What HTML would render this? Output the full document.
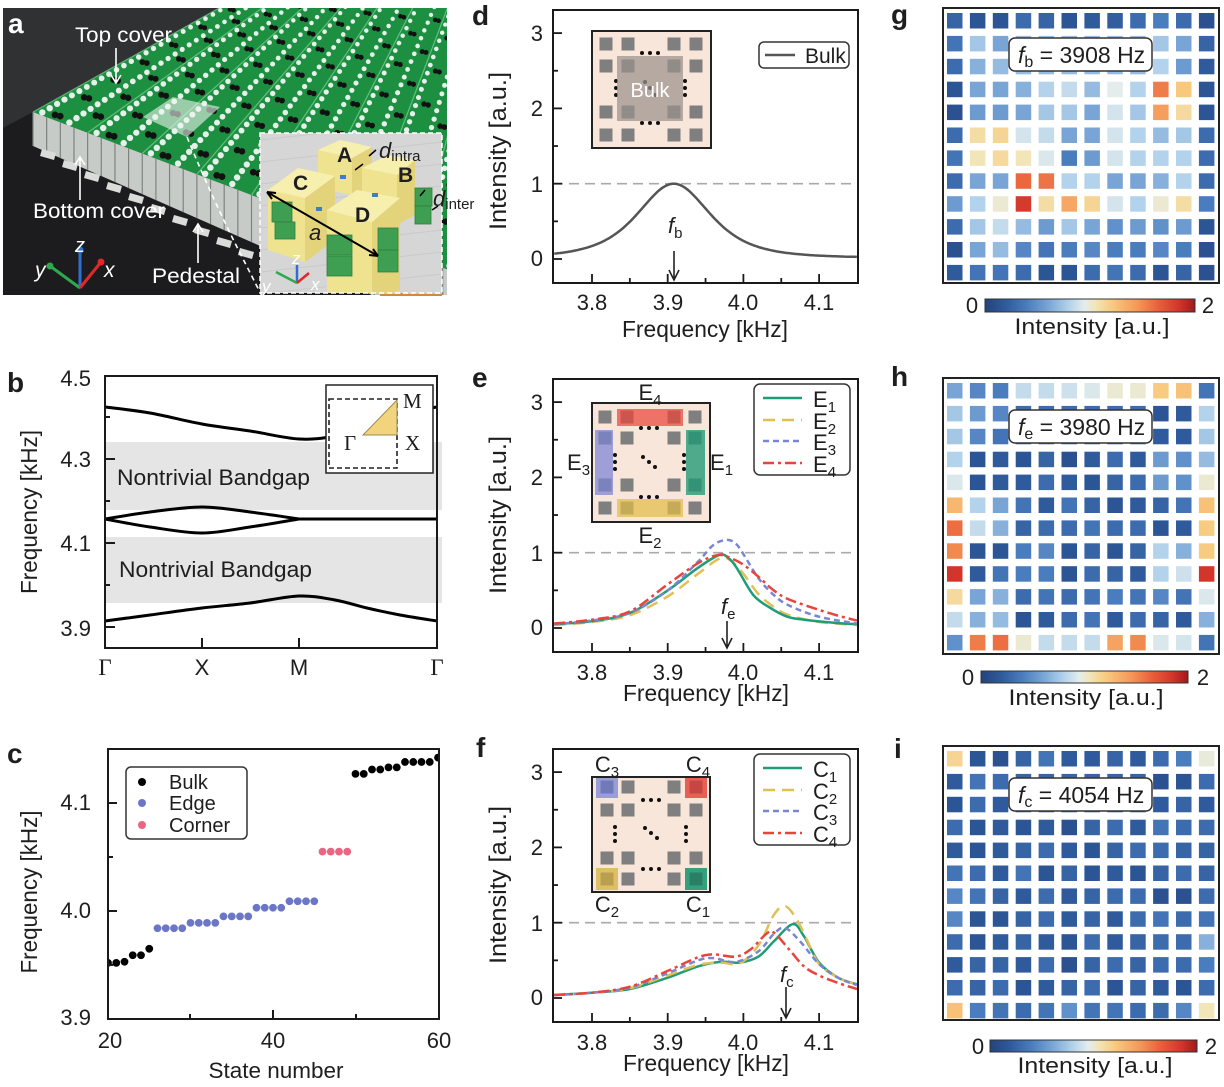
<!DOCTYPE html>
<html><head><meta charset="utf-8">
<style>
html,body{margin:0;padding:0;background:#fff;overflow:hidden}
svg{display:block}
text{font-family:"Liberation Sans",Arial,sans-serif;fill:#1e1e1e}
.t{font-size:22px}
.serif{font-family:"Liberation Serif",serif}
.w{fill:#fff}
.lbl{font-size:28px;font-weight:bold}
</style></head><body>
<svg id="s" xmlns="http://www.w3.org/2000/svg" width="1224" height="1087" viewBox="0 0 1224 1087">
<defs>
<clipPath id="pc"><rect x="3" y="8" width="444" height="287"/></clipPath>
<clipPath id="ic"><rect x="260" y="133" width="182" height="160"/></clipPath>
<clipPath id="cd"><rect x="553" y="10" width="305" height="273"/></clipPath>
<clipPath id="ce"><rect x="553" y="379" width="305" height="273"/></clipPath>
<clipPath id="cf"><rect x="553" y="748" width="305" height="273"/></clipPath>
<clipPath id="cc"><rect x="108" y="749" width="331" height="270"/></clipPath>
<linearGradient id="cbar" x1="0" x2="1" y1="0" y2="0"></linearGradient>
</defs>

<!-- ================= PANEL A (photo) ================= -->
<g clip-path="url(#pc)">
<rect x="3" y="8" width="444" height="287" fill="#1c1c1e"/>
<polygon points="3,8 230,8 33,112 3,128" fill="#303133"/>
<g id="photo"></g>
<polygon points="143,117 173,97 220,107 187,137" fill="#eef5f0" opacity="0.6"/>
<path d="M187,137 Q213,200 240,253 T262,296" fill="none" stroke="#fff" stroke-width="1.6" stroke-dasharray="5 4"/>
</g>
<g clip-path="url(#ic)">
<rect x="260" y="133" width="182" height="160" fill="#d6d6d6"/>
<g id="insetA"></g>
</g>
<rect x="260" y="133" width="182" height="160" fill="none" stroke="#fff" stroke-width="1.5" stroke-dasharray="5 3"/>
<line x1="380" y1="295" x2="442" y2="295" stroke="#d08a3a" stroke-width="2"/>
<text x="337" y="162" font-size="21" font-weight="bold">A</text>
<text x="293" y="190" font-size="21" font-weight="bold">C</text>
<text x="398" y="182" font-size="21" font-weight="bold">B</text>
<text x="355" y="222" font-size="21" font-weight="bold">D</text>
<text x="309" y="240" font-size="22" font-style="italic">a</text>
<text x="379" y="158" font-size="22" font-style="italic">d<tspan font-size="15" font-style="normal" dy="3">intra</tspan></text>
<text x="433" y="206" font-size="22" font-style="italic">d<tspan font-size="15" font-style="normal" dy="3">inter</tspan></text>
<text class="w" x="262" y="292" font-size="17" font-style="italic">y</text>
<text class="w" x="292" y="264" font-size="17" font-style="italic">z</text>
<text class="w" x="311" y="290" font-size="17" font-style="italic">x</text>

<text class="w lbl" x="8" y="33" font-size="30">a</text>
<text class="w" x="75" y="42" font-size="21" textLength="97" lengthAdjust="spacingAndGlyphs">Top cover</text>
<text class="w" x="33" y="218" font-size="21" textLength="132" lengthAdjust="spacingAndGlyphs">Bottom cover</text>
<text class="w" x="152" y="283" font-size="21" textLength="88" lengthAdjust="spacingAndGlyphs">Pedestal</text>
<text class="w" x="75" y="252" font-size="20" font-style="italic">z</text>
<text class="w" x="35" y="277" font-size="21" font-style="italic">y</text>
<text class="w" x="104" y="277" font-size="21" font-style="italic">x</text>
<g stroke="#fff" stroke-width="1.6" fill="none">
<path d="M116,48 L116,83 M111,75 L116,83 L121,75"/>
<path d="M80,200 L80,157 M75,165 L80,157 L85,165"/>
<path d="M198,263 L198,224 M193,232 L198,224 L203,232"/>
</g>

<!-- ================= PANEL B ================= -->
<text class="lbl" x="7" y="392">b</text>
<rect x="105" y="442" width="337" height="68" fill="#e5e5e5"/>
<rect x="105" y="537" width="337" height="66" fill="#e5e5e5"/>
<text x="117" y="485" font-size="22" textLength="193" lengthAdjust="spacingAndGlyphs">Nontrivial Bandgap</text>
<text x="119" y="577" font-size="22" textLength="193" lengthAdjust="spacingAndGlyphs">Nontrivial Bandgap</text>
<g id="bcurves"></g>
<rect x="326" y="385" width="107" height="88" fill="#fff" stroke="#222" stroke-width="1.5"/>
<rect x="329" y="399" width="68" height="69" fill="none" stroke="#222" stroke-width="1.6" stroke-dasharray="5 3"/>
<polygon points="363,435 397,435 397,400" fill="#f3d47e" stroke="#9a8a50" stroke-width="1"/>
<text class="serif" x="403" y="408" font-size="21">M</text>
<text class="serif" x="344" y="450" font-size="21">Γ</text>
<text class="serif" x="405" y="450" font-size="21">X</text>
<rect x="105" y="376" width="332" height="272" fill="none" stroke="#1a1a1a" stroke-width="2"/>
<g stroke="#1a1a1a" stroke-width="2">
<line x1="105" y1="459" x2="115" y2="459"/><line x1="105" y1="543" x2="115" y2="543"/><line x1="105" y1="627" x2="115" y2="627"/>
<line x1="105" y1="417" x2="110" y2="417"/><line x1="105" y1="501" x2="110" y2="501"/><line x1="105" y1="585" x2="110" y2="585"/>
<line x1="202" y1="648" x2="202" y2="638"/><line x1="299" y1="648" x2="299" y2="638"/>
</g>
<text class="t" x="91" y="386" text-anchor="end">4.5</text>
<text class="t" x="91" y="467" text-anchor="end">4.3</text>
<text class="t" x="91" y="551" text-anchor="end">4.1</text>
<text class="t" x="91" y="636" text-anchor="end">3.9</text>
<text class="serif" x="105" y="675" font-size="23" text-anchor="middle">Γ</text>
<text x="202" y="675" font-size="22" text-anchor="middle">X</text>
<text x="299" y="675" font-size="22" text-anchor="middle">M</text>
<text class="serif" x="437" y="675" font-size="23" text-anchor="middle">Γ</text>
<text transform="translate(37,512) rotate(-90)" font-size="23" text-anchor="middle" textLength="164" lengthAdjust="spacingAndGlyphs">Frequency [kHz]</text>

<!-- ================= PANEL C ================= -->
<text class="lbl" x="7" y="763">c</text>
<g id="cdots" clip-path="url(#cc)"></g>
<rect x="108" y="749" width="331" height="270" fill="none" stroke="#1a1a1a" stroke-width="2"/>
<g stroke="#1a1a1a" stroke-width="2">
<line x1="108" y1="803" x2="117" y2="803"/><line x1="108" y1="911" x2="117" y2="911"/>
<line x1="108" y1="857" x2="113" y2="857"/><line x1="108" y1="965" x2="113" y2="965"/>
<line x1="273" y1="1019" x2="273" y2="1010"/><line x1="190" y1="1019" x2="190" y2="1014"/><line x1="356" y1="1019" x2="356" y2="1014"/>
</g>
<rect x="126" y="767" width="121" height="72" rx="5" fill="#fff" stroke="#333" stroke-width="1.5"/>
<circle cx="142" cy="782" r="4" fill="#000"/>
<circle cx="142" cy="803" r="4" fill="#6b77c6"/>
<circle cx="142" cy="825" r="4" fill="#ea6581"/>
<text x="169" y="789" font-size="20">Bulk</text>
<text x="169" y="810" font-size="20">Edge</text>
<text x="169" y="832" font-size="20">Corner</text>
<text class="t" x="91" y="810" text-anchor="end">4.1</text>
<text class="t" x="91" y="918" text-anchor="end">4.0</text>
<text class="t" x="91" y="1025" text-anchor="end">3.9</text>
<text class="t" x="110" y="1048" text-anchor="middle">20</text>
<text class="t" x="273" y="1048" text-anchor="middle">40</text>
<text class="t" x="439" y="1048" text-anchor="middle">60</text>
<text x="276" y="1078" font-size="22" text-anchor="middle" textLength="135" lengthAdjust="spacingAndGlyphs">State number</text>
<text transform="translate(37,892) rotate(-90)" font-size="23" text-anchor="middle" textLength="163" lengthAdjust="spacingAndGlyphs">Frequency [kHz]</text>

<!-- ================= PANELS D,E,F ================= -->
<text class="lbl" x="472" y="25">d</text>
<text class="lbl" x="472" y="387">e</text>
<text class="lbl" x="476" y="757">f</text>
<g id="axes"></g>

<!-- inset d -->
<rect x="592" y="31" width="119" height="117" fill="#f9e6da" stroke="#222" stroke-width="2"/>
<g id="insd"></g>
<rect x="617" y="56" width="66" height="65" fill="#9a918c" opacity="0.72"/>
<text x="650" y="97" font-size="20" text-anchor="middle" style="fill:#fff">Bulk</text>
<!-- inset e -->
<rect x="592" y="403" width="118" height="119" fill="#f9e6da" stroke="#222" stroke-width="2"/>
<g id="inse"></g>
<rect x="617" y="409" width="66" height="17" fill="#e8463c" opacity="0.72"/>
<rect x="617" y="499" width="66" height="18" fill="#e0bc48" opacity="0.72"/>
<rect x="595" y="430" width="18" height="65" fill="#7a84d4" opacity="0.72"/>
<rect x="686" y="430" width="19" height="65" fill="#1d9873" opacity="0.78"/>
<g id="inse2"></g>
<text x="650" y="400" font-size="22" text-anchor="middle">E<tspan font-size="15" dy="5">4</tspan></text>
<text x="650" y="543" font-size="22" text-anchor="middle">E<tspan font-size="15" dy="5">2</tspan></text>
<text x="567" y="470" font-size="22">E<tspan font-size="15" dy="5">3</tspan></text>
<text x="710" y="470" font-size="22">E<tspan font-size="15" dy="5">1</tspan></text>
<!-- inset f -->
<rect x="592" y="777" width="118" height="115" fill="#f9e6da" stroke="#222" stroke-width="2"/>
<rect x="596" y="776" width="22" height="22" fill="#8a90d6" opacity="0.85"/>
<rect x="685" y="776" width="22" height="22" fill="#e8463c" opacity="0.85"/>
<rect x="596" y="868" width="22" height="22" fill="#d8b850" opacity="0.85"/>
<rect x="685" y="868" width="22" height="22" fill="#1d9873" opacity="0.9"/>
<g id="insf"></g>
<rect x="592" y="777" width="118" height="115" fill="none" stroke="#222" stroke-width="2"/>
<text x="607" y="772" font-size="22" text-anchor="middle">C<tspan font-size="15" dy="5">3</tspan></text>
<text x="698" y="772" font-size="22" text-anchor="middle">C<tspan font-size="15" dy="5">4</tspan></text>
<text x="607" y="912" font-size="22" text-anchor="middle">C<tspan font-size="15" dy="5">2</tspan></text>
<text x="698" y="912" font-size="22" text-anchor="middle">C<tspan font-size="15" dy="5">1</tspan></text>

<!-- legends -->
<rect x="759" y="42" width="90" height="26" rx="5" fill="#fff" stroke="#333" stroke-width="1.5"/>
<line x1="765" y1="55" x2="795" y2="55" stroke="#555" stroke-width="2.5"/>
<text x="805" y="63" font-size="21">Bulk</text>
<rect x="754" y="384" width="96" height="91" rx="6" fill="#fff" stroke="#333" stroke-width="1.5"/>
<rect x="754" y="754" width="96" height="91" rx="6" fill="#fff" stroke="#333" stroke-width="1.5"/>
<g id="legs"></g>
<text x="813" y="407" font-size="22">E<tspan font-size="15" dy="5">1</tspan></text>
<text x="813" y="429" font-size="22">E<tspan font-size="15" dy="5">2</tspan></text>
<text x="813" y="450" font-size="22">E<tspan font-size="15" dy="5">3</tspan></text>
<text x="813" y="472" font-size="22">E<tspan font-size="15" dy="5">4</tspan></text>
<text x="813" y="777" font-size="22">C<tspan font-size="15" dy="5">1</tspan></text>
<text x="813" y="799" font-size="22">C<tspan font-size="15" dy="5">2</tspan></text>
<text x="813" y="820" font-size="22">C<tspan font-size="15" dy="5">3</tspan></text>
<text x="813" y="842" font-size="22">C<tspan font-size="15" dy="5">4</tspan></text>

<!-- f labels & arrows -->
<text x="668" y="233" font-size="22" font-style="italic">f<tspan font-size="15" font-style="normal" dy="5">b</tspan></text>
<text x="721" y="614" font-size="22" font-style="italic">f<tspan font-size="15" font-style="normal" dy="5">e</tspan></text>
<text x="780" y="982" font-size="22" font-style="italic">f<tspan font-size="15" font-style="normal" dy="5">c</tspan></text>
<g stroke="#222" stroke-width="1.6" fill="none">
<path d="M674,251 L674,280 M669,270 L674,280 L679,270"/>
<path d="M727,621 L727,648 M722,638 L727,648 L732,638"/>
<path d="M786,987 L786,1018 M781,1008 L786,1018 L791,1008"/>
</g>

<!-- tick labels d,e,f -->
<g font-size="22">
<text class="t" x="543" y="41" text-anchor="end">3</text>
<text class="t" x="543" y="116" text-anchor="end">2</text>
<text class="t" x="543" y="192" text-anchor="end">1</text>
<text class="t" x="543" y="266" text-anchor="end">0</text>
<text class="t" x="543" y="410" text-anchor="end">3</text>
<text class="t" x="543" y="485" text-anchor="end">2</text>
<text class="t" x="543" y="561" text-anchor="end">1</text>
<text class="t" x="543" y="635" text-anchor="end">0</text>
<text class="t" x="543" y="780" text-anchor="end">3</text>
<text class="t" x="543" y="855" text-anchor="end">2</text>
<text class="t" x="543" y="931" text-anchor="end">1</text>
<text class="t" x="543" y="1005" text-anchor="end">0</text>
<text class="t" x="592" y="310" text-anchor="middle">3.8</text>
<text class="t" x="668" y="310" text-anchor="middle">3.9</text>
<text class="t" x="743" y="310" text-anchor="middle">4.0</text>
<text class="t" x="819" y="310" text-anchor="middle">4.1</text>
<text class="t" x="592" y="680" text-anchor="middle">3.8</text>
<text class="t" x="668" y="680" text-anchor="middle">3.9</text>
<text class="t" x="743" y="680" text-anchor="middle">4.0</text>
<text class="t" x="819" y="680" text-anchor="middle">4.1</text>
<text class="t" x="592" y="1050" text-anchor="middle">3.8</text>
<text class="t" x="668" y="1050" text-anchor="middle">3.9</text>
<text class="t" x="743" y="1050" text-anchor="middle">4.0</text>
<text class="t" x="819" y="1050" text-anchor="middle">4.1</text>
</g>
<text x="705" y="337" font-size="23" text-anchor="middle" textLength="166" lengthAdjust="spacingAndGlyphs">Frequency [kHz]</text>
<text x="706" y="701" font-size="23" text-anchor="middle" textLength="166" lengthAdjust="spacingAndGlyphs">Frequency [kHz]</text>
<text x="706" y="1071" font-size="23" text-anchor="middle" textLength="166" lengthAdjust="spacingAndGlyphs">Frequency [kHz]</text>
<text transform="translate(506,151) rotate(-90)" font-size="24" text-anchor="middle" textLength="158" lengthAdjust="spacingAndGlyphs">Intensity [a.u.]</text>
<text transform="translate(506,515) rotate(-90)" font-size="24" text-anchor="middle" textLength="158" lengthAdjust="spacingAndGlyphs">Intensity [a.u.]</text>
<text transform="translate(506,885) rotate(-90)" font-size="24" text-anchor="middle" textLength="158" lengthAdjust="spacingAndGlyphs">Intensity [a.u.]</text>

<!-- ================= PANELS G,H,I ================= -->
<text class="lbl" x="891" y="24">g</text>
<text class="lbl" x="891" y="386">h</text>
<text class="lbl" x="894" y="758">i</text>
<g id="hm"></g>
<rect x="943" y="8" width="276" height="275" fill="none" stroke="#222" stroke-width="2"/>
<rect x="943" y="378" width="276" height="276" fill="none" stroke="#222" stroke-width="2"/>
<rect x="943" y="746" width="276" height="274" fill="none" stroke="#222" stroke-width="2"/>
<rect x="1009" y="38" width="143" height="33" rx="6" fill="#fff" stroke="#333" stroke-width="1.5"/>
<rect x="1009" y="410" width="143" height="33" rx="6" fill="#fff" stroke="#333" stroke-width="1.5"/>
<rect x="1009" y="778" width="143" height="33" rx="6" fill="#fff" stroke="#333" stroke-width="1.5"/>
<text x="1018" y="63" font-size="23"><tspan font-style="italic">f</tspan><tspan font-size="16" dy="4">b</tspan><tspan dy="-4"> = 3908 Hz</tspan></text>
<text x="1018" y="435" font-size="23"><tspan font-style="italic">f</tspan><tspan font-size="16" dy="4">e</tspan><tspan dy="-4"> = 3980 Hz</tspan></text>
<text x="1018" y="803" font-size="23"><tspan font-style="italic">f</tspan><tspan font-size="16" dy="4">c</tspan><tspan dy="-4"> = 4054 Hz</tspan></text>
<rect x="985" y="299" width="210" height="13" fill="url(#cbar)" stroke="#333" stroke-width="1"/>
<rect x="981" y="671" width="207" height="12" fill="url(#cbar)" stroke="#333" stroke-width="1"/>
<rect x="990" y="1040" width="207" height="12" fill="url(#cbar)" stroke="#333" stroke-width="1"/>
<text class="t" x="972" y="313" text-anchor="middle">0</text>
<text class="t" x="1208" y="313" text-anchor="middle">2</text>
<text class="t" x="968" y="685" text-anchor="middle">0</text>
<text class="t" x="1203" y="685" text-anchor="middle">2</text>
<text class="t" x="978" y="1054" text-anchor="middle">0</text>
<text class="t" x="1211" y="1054" text-anchor="middle">2</text>
<text x="1092" y="334" font-size="22" text-anchor="middle" textLength="155" lengthAdjust="spacingAndGlyphs">Intensity [a.u.]</text>
<text x="1086" y="705" font-size="22" text-anchor="middle" textLength="155" lengthAdjust="spacingAndGlyphs">Intensity [a.u.]</text>
<text x="1095" y="1073" font-size="22" text-anchor="middle" textLength="155" lengthAdjust="spacingAndGlyphs">Intensity [a.u.]</text>
</svg>

<script>
(function(){
const NS='http://www.w3.org/2000/svg';
function E(t,a,p){const e=document.createElementNS(NS,t);for(const k in a)e.setAttribute(k,a[k]);p.appendChild(e);return e;}
function G(id){return document.getElementById(id);}
function cr(pts){let d='M'+pts[0][0].toFixed(1)+','+pts[0][1].toFixed(1);
 for(let i=0;i<pts.length-1;i++){const p0=pts[i-1]||pts[i],p1=pts[i],p2=pts[i+1],p3=pts[i+2]||p2;
  const c1=[p1[0]+(p2[0]-p0[0])/6,p1[1]+(p2[1]-p0[1])/6],c2=[p2[0]-(p3[0]-p1[0])/6,p2[1]-(p3[1]-p1[1])/6];
  d+=' C'+c1[0].toFixed(1)+','+c1[1].toFixed(1)+' '+c2[0].toFixed(1)+','+c2[1].toFixed(1)+' '+p2[0].toFixed(1)+','+p2[1].toFixed(1);}
 return d;}

/* ---------- photo ---------- */
const ph=G('photo');
const FL=[33,112],FR=[470,278],BL=[273,-22],BR=[520,-20];
function P(s,t){return [FL[0]*(1-s)*(1-t)+FR[0]*s*(1-t)+BL[0]*(1-s)*t+BR[0]*s*t, FL[1]*(1-s)*(1-t)+FR[1]*s*(1-t)+BL[1]*(1-s)*t+BR[1]*s*t];}
E('polygon',{points:[P(0,0),P(1,0),P(1,1),P(0,1)].map(p=>p.join(',')).join(' '),fill:'#1d8f40'},ph);
const N=16;
for(let i=0;i<=N;i+=2){const a=P(i/N,0),b=P(i/N,1);E('line',{x1:a[0],y1:a[1],x2:b[0],y2:b[1],stroke:'#8fe0a8','stroke-width':1.2,opacity:0.6},ph);}
for(let i=0;i<N;i++)for(let j=0;j<N;j++){
 const sc=1-0.4*j/N;
 [[0.22,0.22],[0.22,0.72]].forEach(o=>{const p=P((i+o[0])/N,(j+o[1])/N);E('circle',{cx:p[0].toFixed(1),cy:p[1].toFixed(1),r:(3.2*sc).toFixed(2),fill:'#e6f0ea'},ph);});
 if((i+j)%2==0){const p=P((i+0.66)/N,(j+0.45)/N);
  E('circle',{cx:(p[0]-2.6*sc).toFixed(1),cy:p[1].toFixed(1),r:(3.4*sc).toFixed(2),fill:'#111'},ph);
  E('circle',{cx:(p[0]+2.6*sc).toFixed(1),cy:(p[1]+1.2*sc).toFixed(1),r:(3.4*sc).toFixed(2),fill:'#111'},ph);}
}
// walls
const wall=[];for(let i=0;i<=N;i++){wall.push(P(i/N,0));}
const bot=wall.map(p=>[p[0],p[1]+34+(p[0]-33)*0.06]);
E('polygon',{points:wall.concat(bot.slice().reverse()).map(p=>p[0].toFixed(1)+','+p[1].toFixed(1)).join(' '),fill:'#c6cbc8'},ph);
for(let i=0;i<=2*N;i++){const p=P(i/(2*N),0),q=[p[0],p[1]+34+(p[0]-33)*0.06];E('line',{x1:p[0],y1:p[1],x2:q[0],y2:q[1],stroke:'#7d8480','stroke-width':1.2},ph);}
for(let i=0;i<12;i++){const x=42+i*22,y=148+(x-40)*0.5;E('polygon',{points:`${x},${y} ${x+14},${y+4} ${x+12},${y+11} ${x-2},${y+7}`,fill:'#d9dcd9'},ph);}
// axes in photo
[['#2f6fd0',80,250],['#2fa84f',50,266],['#e0282a',101,262]].forEach(a=>{
 E('line',{x1:80,y1:288,x2:a[1],y2:a[2],stroke:a[0],'stroke-width':3},ph);
 E('circle',{cx:a[1],cy:a[2],r:3.5,fill:a[0]},ph);});

/* ---------- inset of a ---------- */
const ia=G('insetA');
for(let k=0;k<8;k++){E('line',{x1:260,y1:140+k*22,x2:442,y2:120+k*22,stroke:'#cacaca','stroke-width':1},ia);}
function blk(top,left,right){E('polygon',{points:left,fill:'#efe390'},ia);E('polygon',{points:right,fill:'#e3d47c'},ia);E('polygon',{points:top,fill:'#f7efae'},ia);}
blk('318,150 340,140 372,147 352,158','318,150 352,158 352,195 318,188','352,158 372,147 372,185 352,195');
blk('268,190 298,168 335,176 305,198','268,190 305,198 305,262 268,250','305,198 335,176 335,240 305,262');
blk('362,168 388,155 415,160 397,175','362,168 397,175 397,225 362,215','397,175 415,160 415,215 397,225');
[[272,202,20,20],[275,222,20,17],[415,188,17,18],[415,206,16,18]].forEach(r=>E('rect',{x:r[0],y:r[1],width:r[2],height:r[3],fill:'#3e9f52',stroke:'#2d7f3e','stroke-width':0.8},ia));
blk('327,210 357,190 400,198 372,222','327,210 372,222 372,300 327,292','372,222 400,198 400,290 372,300');
[[327,235,25,20],[327,256,25,20],[378,228,20,22],[378,250,20,22]].forEach(r=>E('rect',{x:r[0],y:r[1],width:r[2],height:r[3],fill:'#3e9f52',stroke:'#2d7f3e','stroke-width':0.8},ia));
[[340,175],[372,193],[316,207]].forEach(c=>E('rect',{x:c[0],y:c[1],width:6,height:4,fill:'#3a7fc8'},ia));
E('path',{d:'M267,192 L378,256 M267,192 l9,1 M267,192 l5,7 M378,256 l-9,-1 M378,256 l-5,-7',stroke:'#000','stroke-width':2,fill:'none'},ia);
E('path',{d:'M355,170 l8,-6 M376,150 l-7,6 M425,190 l-5,6 M438,206 l-6,4',stroke:'#000','stroke-width':1.5,fill:'none'},ia);
[['#2f6fd0',297,265],['#2fa84f',276,272],['#e0282a',309,273]].forEach(a=>{E('line',{x1:297,y1:283,x2:a[1],y2:a[2],stroke:a[0],'stroke-width':2.5},ia);});

/* ---------- panel b curves ---------- */
const bc=G('bcurves');
[[[105,407],[150,413],[202,424],[250,431],[299,439],[335,436],[370,425],[405,413],[437,407]],
 [[105,519],[150,512],[202,507],[250,512],[299,519]],
 [[299,519],[340,519],[437,519]],
 [[105,519],[150,527],[202,533],[250,527],[299,519]],
 [[105,621],[150,615],[202,608],[250,603],[299,596],[335,600],[367,608],[400,615],[437,621]]
].forEach(p=>E('path',{d:cr(p),fill:'none',stroke:'#000','stroke-width':3},bc));

/* ---------- panel c dots ---------- */
const cd=G('cdots');
const CX=s=>108+(s-20)*8.25, CY=f=>1019-(f-3.9)*1080;
const bulk=[[20,3.952],[21,3.952],[22,3.953],[23,3.959],[24,3.959],[25,3.965],[50,4.127],[51,4.127],[52,4.131],[53,4.131],[54,4.133],[55,4.133],[56,4.138],[57,4.138],[58,4.138],[59,4.138],[60,4.142]];
bulk.forEach(d=>E('circle',{cx:CX(d[0]),cy:CY(d[1]),r:3.9,fill:'#000'},cd));
const eg=[3.984,3.989,3.995,4.003,4.009];
for(let s=26;s<=45;s++)E('circle',{cx:CX(s),cy:CY(eg[Math.floor((s-26)/4)]),r:3.9,fill:'#6b77c6'},cd);
for(let s=46;s<=49;s++)E('circle',{cx:CX(s),cy:CY(4.055),r:3.9,fill:'#ea6581'},cd);

/* ---------- d,e,f axes & curves ---------- */
const ax=G('axes');
const FX=f=>592+(f-3.8)*757;
[0,369,739].forEach((off,k)=>{
 const FY=v=>259+off-v*75.3;
 E('line',{x1:553,y1:FY(1),x2:858,y2:FY(1),stroke:'#aaa','stroke-width':1.6,'stroke-dasharray':'10 6'},ax);
 const cg=E('g',{'clip-path':'url(#'+['cd','ce','cf'][k]+')'},ax);
 if(k==0){const pts=[];for(let f=3.75;f<=4.1501;f+=0.004){const u=(f-3.908)/0.0882;pts.push([FX(f),FY(0.985/Math.pow(1+u*u,2)+0.015)]);}
  E('path',{d:cr(pts),fill:'none',stroke:'#555','stroke-width':2.5},cg);}
 const sets=k==1?[
  ['#e0c055','12 7',[[3.75,0.04],[3.8,0.08],[3.85,0.17],[3.9,0.42],[3.94,0.72],[3.97,0.93],[3.985,0.88],[4.0,0.72],[4.02,0.45],[4.04,0.28],[4.06,0.17],[4.1,0.08],[4.15,0.04]]],
  ['#1f9d78','',[[3.75,0.05],[3.8,0.09],[3.85,0.2],[3.9,0.5],[3.94,0.8],[3.968,0.97],[3.98,0.93],[3.991,0.8],[4.013,0.44],[4.035,0.27],[4.058,0.15],[4.08,0.11],[4.12,0.07],[4.15,0.05]]],
  ['#7b86d2','6 4',[[3.75,0.05],[3.8,0.1],[3.85,0.2],[3.9,0.5],[3.94,0.88],[3.96,1.1],[3.978,1.17],[3.99,1.12],[4.0,0.98],[4.02,0.66],[4.04,0.44],[4.06,0.3],[4.1,0.15],[4.15,0.06]]],
  ['#e8443c','11 4 3 4',[[3.75,0.06],[3.8,0.11],[3.85,0.22],[3.9,0.58],[3.94,0.86],[3.967,0.97],[3.985,0.92],[4.0,0.84],[4.02,0.68],[4.04,0.5],[4.06,0.38],[4.1,0.24],[4.13,0.15],[4.15,0.1]]]
 ]:k==2?[
  ['#1f9d78','',[[3.75,0.04],[3.8,0.07],[3.85,0.12],[3.9,0.27],[3.94,0.42],[3.97,0.48],[3.995,0.47],[4.02,0.55],[4.04,0.75],[4.065,0.98],[4.08,0.82],[4.1,0.47],[4.125,0.27],[4.15,0.18]]],
  ['#e0c055','12 7',[[3.75,0.04],[3.8,0.07],[3.85,0.13],[3.9,0.3],[3.94,0.44],[3.97,0.47],[3.995,0.46],[4.02,0.7],[4.04,1.1],[4.055,1.22],[4.07,1.05],[4.085,0.75],[4.1,0.45],[4.125,0.27],[4.15,0.18]]],
  ['#7b86d2','6 4',[[3.75,0.04],[3.8,0.07],[3.85,0.14],[3.9,0.33],[3.94,0.5],[3.96,0.53],[3.99,0.48],[4.02,0.62],[4.04,0.85],[4.055,0.93],[4.075,0.75],[4.1,0.45],[4.125,0.27],[4.15,0.17]]],
  ['#e8443c','11 4 3 4',[[3.75,0.04],[3.8,0.07],[3.85,0.15],[3.9,0.36],[3.94,0.54],[3.96,0.58],[3.99,0.55],[4.01,0.65],[4.03,0.85],[4.04,0.87],[4.06,0.65],[4.08,0.42],[4.1,0.3],[4.125,0.2],[4.15,0.12]]]
 ]:[];
 sets.forEach(s=>{const a={d:cr(s[2].map(p=>[FX(p[0]),FY(p[1])])),fill:'none',stroke:s[0],'stroke-width':2.5};if(s[1])a['stroke-dasharray']=s[1];E('path',a,cg);});
 const top=10+off;
 E('rect',{x:553,y:top,width:305,height:273,fill:'none',stroke:'#1a1a1a','stroke-width':2},ax);
 [0,1,2,3].forEach(v=>E('line',{x1:553,y1:FY(v),x2:562,y2:FY(v),stroke:'#1a1a1a','stroke-width':1.8},ax));
 [0.5,1.5,2.5].forEach(v=>E('line',{x1:553,y1:FY(v),x2:558,y2:FY(v),stroke:'#1a1a1a','stroke-width':1.8},ax));
 [3.8,3.9,4.0,4.1].forEach(f=>E('line',{x1:FX(f),y1:top+273,x2:FX(f),y2:top+264,stroke:'#1a1a1a','stroke-width':1.8},ax));
 [3.85,3.95,4.05].forEach(f=>E('line',{x1:FX(f),y1:top+273,x2:FX(f),y2:top+268,stroke:'#1a1a1a','stroke-width':1.8},ax));
});

/* ---------- legend lines ---------- */
const lg=G('legs');
[['#1f9d78',''],['#e0c055','12 7'],['#7b86d2','6 4'],['#e8443c','11 4 3 4']].forEach((c,i)=>{
 [398,768].forEach(y0=>{const y=y0+[0,22,43,65][i];const a={x1:763,y1:y,x2:802,y2:y,stroke:c[0],'stroke-width':2.5};if(c[1])a['stroke-dasharray']=c[1];E('line',a,lg);});});

/* ---------- inset squares & dots ---------- */
function sq(g,xs,ys){xs.forEach((x,i)=>ys.forEach((y,j)=>{E('rect',{x:x-6.5,y:y-6.5,width:13,height:13,fill:'#7f7f7f'},g);}));}
function dots(g,pts){pts.forEach(p=>E('circle',{cx:p[0],cy:p[1],r:2,fill:'#111'},g));}
const gd=G('insd');sq(gd,[606,628,674,696],[44,66,112,135]);
dots(gd,[[642,53],[650,53],[658,53],[642,123],[650,123],[658,123],[616,81],[616,88],[616,95],[685,81],[685,88],[685,95],[645,82],[650,88],[655,95]]);
const ge=G('inse');sq(ge,[605,627,674,695],[417,438,485,508]);
dots(G('inse2'),[[641,428],[649,428],[657,428],[641,497],[649,497],[657,497],[615,455],[615,462],[615,469],[684,455],[684,462],[684,469],[643,457],[649,462],[655,467]]);
const gf=G('insf');sq(gf,[607,628,674,696],[787,810,858,879]);
dots(gf,[[643,800],[651,800],[659,800],[643,869],[651,869],[659,869],[615,827],[615,834],[615,841],[686,827],[686,834],[686,841],[645,828],[651,833],[657,838]]);
[[607,787,'#6e78c8'],[696,787,'#d83a32'],[607,879,'#c8a844'],[696,879,'#17805f']].forEach(c=>E('rect',{x:c[0]-6.5,y:c[1]-6.5,width:13,height:13,fill:c[2],opacity:0.8},gf));

/* ---------- heatmaps ---------- */
const stops=[[0,'#24437c'],[0.2,'#2f5b9d'],[0.4,'#4a7dbe'],[0.6,'#78a5d5'],[0.8,'#b3d2eb'],[0.95,'#e4edec'],[1.05,'#f2e5b8'],[1.2,'#f8cc80'],[1.45,'#f59858'],[1.65,'#e9603a'],[1.85,'#d2352a'],[2,'#a01a1c']];
function hx(c){return [1,3,5].map(i=>parseInt(c.substr(i,2),16));}
function cmap(v){v=Math.max(0,Math.min(2,v));for(let i=0;i<stops.length-1;i++){const a=stops[i][0],b=stops[i+1][0];if(v<=b){const t=(v-a)/(b-a),A=hx(stops[i][1]),B=hx(stops[i+1][1]);return 'rgb('+A.map((x,k)=>Math.round(x+(B[k]-x)*t)).join(',')+')';}}return stops[stops.length-1][1];}
const grad=G('cbar');stops.forEach(s=>E('stop',{offset:s[0]/2,'stop-color':s[1]},grad));
const HG=[
[0.25,0.15,0.15,0.3,0.25,0.15,0.2,0.22,0.3,0.4,0.3,0.12],
[0.35,0.75,0.6,0.7,0.7,0.7,0.7,0.7,0.7,0.75,0.6,0.25],
[0.3,0.65,0.7,0.7,0.7,0.7,0.7,0.7,0.7,0.8,0.55,0.2],
[0.15,0.6,0.6,0.65,0.8,0.85,0.7,0.95,0.8,1.55,1.22,0.15],
[0.12,0.55,0.55,0.6,0.75,0.75,0.6,0.9,0.75,1.42,1.12,0.15],
[0.3,1.1,1.15,0.9,0.85,0.6,0.6,0.9,0.8,0.7,0.75,0.3],
[0.35,1.05,1.12,1.05,0.92,0.4,0.55,0.9,0.8,0.8,0.8,0.3],
[0.3,0.6,0.6,1.62,1.58,0.8,0.8,0.6,0.6,0.65,0.8,0.3],
[0.55,0.8,1.0,1.82,1.1,1.38,1.15,0.9,0.8,1.0,1.1,0.4],
[0.3,0.75,0.85,0.7,0.55,0.75,0.6,0.5,0.55,0.5,0.55,0.15],
[0.12,0.6,0.7,0.45,0.35,0.4,0.45,0.4,0.4,0.45,0.4,0.12],
[0.2,0.35,0.35,0.3,0.15,0.15,0.3,0.35,0.3,0.15,0.25,0.12]];
const HH=[
[0.6,0.45,0.4,0.85,0.85,0.88,0.92,1.0,1.0,1.2,1.25,0.35],
[0.75,0.55,0.45,0.3,0.3,0.3,0.3,0.3,0.3,0.15,0.2,0.8],
[0.75,0.45,0.35,0.3,0.3,0.3,0.3,0.3,0.3,0.2,0.2,0.75],
[0.8,0.15,0.2,0.15,0.25,0.12,0.2,0.3,0.2,0.55,0.5,0.7],
[0.92,0.15,0.2,0.2,0.3,0.2,0.15,0.25,0.3,0.55,0.5,1.0],
[1.3,0.8,0.6,0.35,0.2,0.35,0.25,0.15,0.2,0.25,0.35,1.25],
[1.6,0.85,0.65,0.25,0.3,0.3,0.35,0.3,0.3,0.15,0.2,1.2],
[1.5,0.15,0.15,0.4,0.45,0.15,0.25,0.15,0.25,0.8,0.65,1.2],
[1.85,0.2,0.35,0.4,0.4,0.15,0.3,0.25,0.2,0.8,0.88,1.85],
[1.12,0.6,0.65,0.3,0.35,0.3,0.35,0.4,0.35,0.45,0.35,0.92],
[0.85,0.65,0.7,0.15,0.2,0.3,0.35,0.2,0.3,0.25,0.2,0.65],
[0.5,1.55,1.6,1.0,0.85,0.85,0.85,1.4,1.5,0.92,0.9,0.35]];
const HI=[
[1.15,0.15,0.12,0.25,0.35,0.2,0.2,0.25,0.2,0.3,0.4,0.98],
[0.2,0.35,0.3,0.25,0.25,0.25,0.25,0.25,0.25,0.12,0.15,0.3],
[0.15,0.3,0.2,0.25,0.25,0.25,0.25,0.25,0.25,0.2,0.25,0.2],
[0.3,0.15,0.2,0.15,0.2,0.12,0.25,0.3,0.2,0.35,0.3,0.3],
[0.2,0.15,0.2,0.25,0.3,0.2,0.15,0.25,0.3,0.3,0.25,0.25],
[0.35,0.3,0.2,0.35,0.15,0.25,0.15,0.2,0.15,0.25,0.3,0.25],
[0.45,0.35,0.25,0.2,0.3,0.2,0.25,0.3,0.3,0.12,0.12,0.3],
[0.45,0.15,0.15,0.25,0.3,0.2,0.25,0.2,0.3,0.35,0.3,0.35],
[0.3,0.15,0.2,0.25,0.2,0.15,0.3,0.2,0.25,0.3,0.3,0.65],
[0.2,0.25,0.25,0.2,0.3,0.12,0.25,0.3,0.25,0.3,0.3,0.4],
[0.3,0.25,0.3,0.15,0.2,0.25,0.3,0.15,0.25,0.2,0.15,0.3],
[1.25,0.4,0.35,0.3,0.35,0.5,0.35,0.35,0.3,0.3,0.45,1.05]];
const hm=G('hm');
[[HG,8],[HH,378],[HI,746]].forEach(m=>{m[0].forEach((row,r)=>row.forEach((v,c)=>{
 E('rect',{x:(947+c*22.9).toFixed(1),y:(m[1]+5+r*22.9).toFixed(1),width:15.5,height:15.5,fill:cmap(v)},hm);}));});
})();
</script>
</body></html>
